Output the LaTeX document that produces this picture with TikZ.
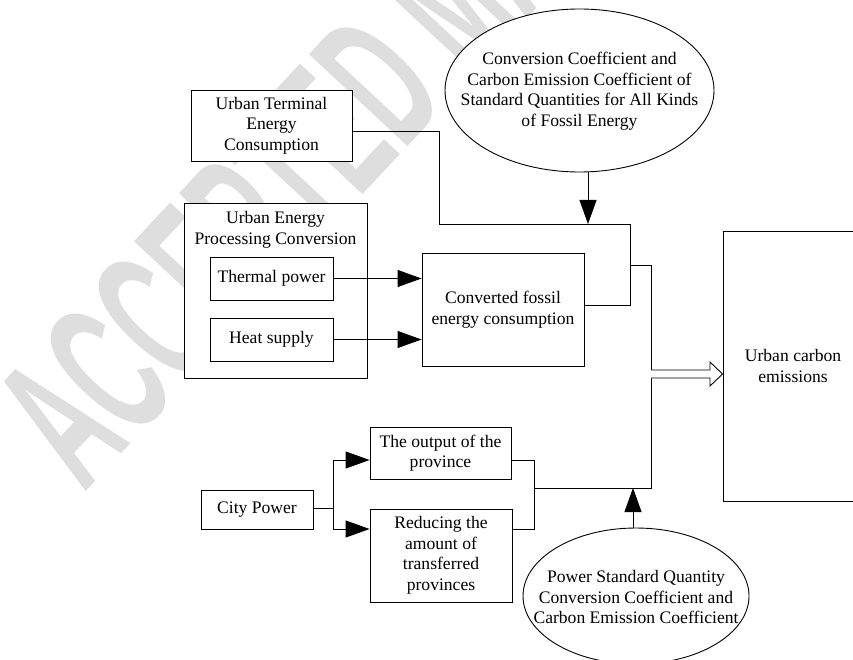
\documentclass[tikz,border=0pt]{standalone}
\usepackage{fontspec}
\setmainfont{Liberation Serif}
\newfontfamily\wmfont{Liberation Sans}
\usetikzlibrary{arrows.meta,shapes.geometric}
\begin{document}
\begin{tikzpicture}[x=1pt,y=-1pt,
  every node/.style={font=\fontsize{17.6}{20.5}\selectfont, inner sep=0pt, align=center},
  box/.style={draw, line width=0.9pt, fill=white},
  oval/.style={draw, ellipse, line width=0.9pt, fill=white},
  ln/.style={draw, line width=0.9pt},
  ar/.style={draw, line width=0.9pt, -{Triangle[length=24pt,width=17pt]}},
  wm/.style={text=black!13, font=\wmfont\bfseries\fontsize{196}{196}\selectfont}]
\useasboundingbox (0,0) rectangle (853,660);
% watermark
\node[wm, anchor=base west, rotate=47, xscale=0.5] (wm) at (84,494) {ACCEPTED MANUSCRIPT};
% boxes
\node[box, minimum width=161pt, minimum height=71pt] (UT) at (271.5,125.5) {Urban Terminal\\Energy\\Consumption};
\node[box, minimum width=183pt, minimum height=175pt] (UEP) at (275.5,290.5) {};
\node (UEPt) at (275.5,230) {Urban Energy\\Processing Conversion};
\node[box, minimum width=123pt, minimum height=43pt] (TP) at (271.5,278.5) {Thermal power};
\node[box, minimum width=123pt, minimum height=43pt] (HS) at (271.5,339.5) {Heat supply};
\node[box, minimum width=162pt, minimum height=113pt] (CF) at (503,309.5) {Converted fossil\\energy consumption};
\node[oval, minimum width=269pt, minimum height=163pt] (E1) at (579.5,90.5) {};
\node (E1t) at (579.5,91) {Conversion Coefficient and\\Carbon Emission Coefficient of\\Standard Quantities for All Kinds\\of Fossil Energy};
\node[box, minimum width=140pt, minimum height=270pt] (UC) at (793,366) {};
\node (UCt) at (793,366) {Urban carbon\\emissions};
\node[box, minimum width=141pt, minimum height=52pt] (OP) at (440.5,453) {The output of the\\province};
\node[box, minimum width=142pt, minimum height=93pt] (RT) at (441,555.5) {Reducing the\\amount of\\transferred\\provinces};
\node[box, minimum width=112pt, minimum height=39pt] (CP) at (257,509.5) {City Power};
\node[oval, minimum width=226pt, minimum height=136pt] (E2) at (636,596) {};
\node (E2t) at (636,597) {Power Standard Quantity\\Conversion Coefficient and\\Carbon Emission Coefficient};
% junction coordinates
\coordinate (j1) at (439,131);
\coordinate (j2) at (439,224);
\coordinate (j3) at (630,224);
\coordinate (j4) at (630,305);
\coordinate (a1) at (588,224);
\coordinate (k1) at (630,265);
\coordinate (k2) at (651,265);
\coordinate (k3) at (651,488);
\coordinate (k4) at (534,488);
\coordinate (m1) at (534,460);
\coordinate (m2) at (534,529);
\coordinate (n0) at (333,508);
\coordinate (n1) at (333,460);
\coordinate (n2) at (333,529);
\coordinate (p1) at (633,488);
\coordinate (h0) at (651,374);
% connectors
\draw[ln] (UT.east |- j1) -- (j1) -- (j2) -- (j3) -- (j4) -- (CF.east |- j4);
\draw[ar] (E1.south -| a1) -- (a1);
\draw[ar] (TP.east) -- (TP.east -| CF.west);
\draw[ar] (HS.east) -- (HS.east -| CF.west);
\draw[ln] (k1) -- (k2) -- (k3) -- (k4);
\draw[ln] (OP.east |- m1) -- (m1) -- (m2) -- (RT.east |- m2);
\draw[ln] (CP.east |- n0) -- (n0);
\draw[ln] (n1) -- (n2);
\draw[ar] (n1) -- (OP.west |- n1);
\draw[ar] (n2) -- (RT.west |- n2);
\draw[ar] (E2.north -| p1) -- (p1);
% hollow arrow
\draw[ln, fill=white] ([yshift=4pt]h0) -- ([xshift=59pt,yshift=4pt]h0) -- ([xshift=59pt,yshift=12pt]h0) -- (UC.west |- h0) -- ([xshift=59pt,yshift=-12pt]h0) -- ([xshift=59pt,yshift=-4pt]h0) -- ([yshift=-4pt]h0);
\end{tikzpicture}
\end{document}
